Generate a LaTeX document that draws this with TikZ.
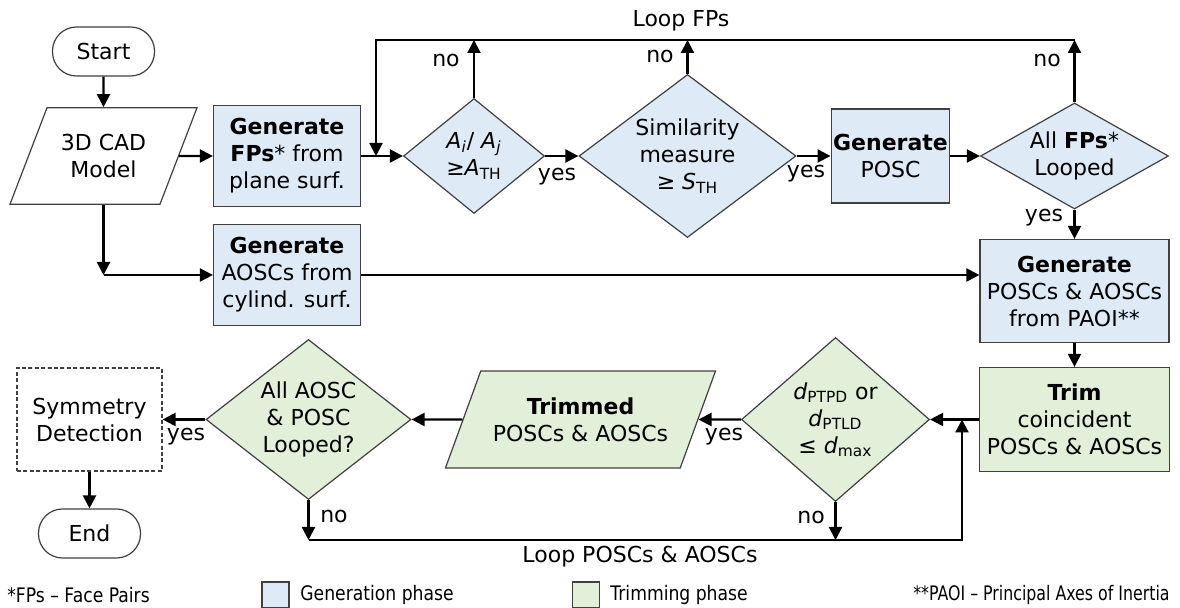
\documentclass[tikz,border=0pt]{standalone}
\usepackage{fontspec}
\setmainfont{DejaVu Sans}
\newfontfamily\legendfont[FakeStretch=0.86]{DejaVu Sans}
\newfontfamily\notefont[FakeStretch=0.79]{DejaVu Sans}
\usepackage{tikz}
\usetikzlibrary{shapes,arrows,arrows.meta}
\definecolor{genblue}{RGB}{222,235,247}
\definecolor{trimgreen}{RGB}{226,240,217}
\definecolor{edgegray}{RGB}{64,64,64}
\tikzstyle{startstop} = [rectangle, rounded corners=12pt, minimum width=51pt, minimum height=24.5pt, text centered, draw=edgegray, line width=0.6pt]
\tikzstyle{genbox} = [rectangle, minimum width=73.5pt, minimum height=50.5pt, align=center, draw=edgegray, line width=0.6pt, fill=genblue, inner sep=1pt]
\tikzstyle{trimbox} = [genbox, fill=trimgreen]
\tikzstyle{decision} = [diamond, inner sep=-3pt, align=center, draw=edgegray, line width=0.6pt, fill=genblue]
\tikzstyle{trimdecision} = [decision, fill=trimgreen]
\tikzstyle{io} = [trapezium, trapezium stretches body, trapezium left angle=69, trapezium right angle=111, inner xsep=2pt, inner ysep=13.2pt, align=center, draw=edgegray, line width=0.6pt]
\tikzstyle{arrow} = [line width=1.1pt, ->, >={Triangle[length=6.5pt,width=6.5pt]}]
\tikzstyle{tag} = [inner sep=0pt]
\tikzstyle{keybox} = [rectangle, draw=edgegray, line width=0.6pt, minimum width=13.5pt, minimum height=13pt, inner sep=0pt]

\begin{document}
\begin{tikzpicture}[x=0.5pt, y=-0.5pt, font=\fontsize{11}{13.5}\selectfont]
\useasboundingbox (0,0) rectangle (1180,608);

\node (start) [startstop] at (103.5,51.5) {Start};
\node (model) [io, minimum width=93.5pt, below of=start, node distance=52.25pt] {3D CAD\\Model};
\node (fps) [genbox, right of=model, node distance=91.75pt] {\textbf{Generate}\\\textbf{FPs}* from\\plane surf.};
\node (aoscs) [genbox, below of=fps, node distance=59.5pt] {\textbf{Generate}\\AOSCs from\\cylind. surf.};
\node (ratio) [decision, aspect=1.23, minimum width=70.5pt, minimum height=57.5pt, right of=fps, node distance=93.5pt] {\textit{A}\textsubscript{\textit{i}}/ \textit{A}\textsubscript{\textit{j}}\\≥\textit{A}\textsubscript{TH}};
\node (simil) [decision, aspect=1.33, minimum width=108.5pt, minimum height=81.5pt, right of=ratio, node distance=106.75pt] {Similarity\\measure\\≥ \textit{S}\textsubscript{TH}};
\node (posc) [genbox, minimum width=59pt, minimum height=47pt, right of=simil, node distance=101.5pt] {\textbf{Generate}\\POSC};
\node (allfps) [decision, aspect=1.77, minimum width=94pt, minimum height=53pt, right of=posc, node distance=92pt] {All \textbf{FPs}*\\Looped};
\node (paoi) [genbox, minimum width=94.5pt, minimum height=51.5pt, below of=allfps, node distance=67.5pt] {\textbf{Generate}\\POSCs \& AOSCs\\from PAOI**};
\node (trim) [trimbox, minimum width=95pt, minimum height=52pt, below of=paoi, node distance=64.25pt] {\textbf{Trim}\\coincident\\POSCs \& AOSCs};
\node (dist) [trimdecision, aspect=1.15, minimum width=94pt, minimum height=82pt, left of=trim, node distance=119.5pt] {\textit{d}\textsubscript{PTPD} or\\\textit{d}\textsubscript{PTLD}\\≤ \textit{d}\textsubscript{max}};
\node (trimmed) [io, fill=trimgreen, trapezium left angle=70, trapezium right angle=110, minimum width=135pt, left of=dist, node distance=127.5pt] {\textbf{Trimmed}\\POSCs \& AOSCs};
\node (allosc) [trimdecision, aspect=1.28, minimum width=102.5pt, minimum height=80pt, left of=trimmed, node distance=136pt] {All AOSC\\\& POSC\\Looped?};
\node (sym) [rectangle, dash pattern=on 2pt off 1.2pt, draw=edgegray, line width=0.6pt, minimum width=72.5pt, minimum height=51.5pt, align=center, left of=allosc, node distance=109.5pt] {Symmetry\\Detection};
\node (end) [startstop, below of=sym, node distance=57pt] {End};

% loop corners
\coordinate (looptop) at (376,40);
\coordinate (loopbot) at (962,540);

\draw [arrow] (start) -- (model);
\draw [arrow] (model) -- (fps);
\draw [arrow] (model.south) -- (model.south |- aoscs.west);
\draw [arrow] (model.south |- aoscs.west) -- (aoscs.west);
\draw [arrow] (fps) -- (ratio);
\draw [arrow] (ratio) -- (simil);
\draw [arrow] (simil) -- (posc);
\draw [arrow] (posc) -- (allfps);
\draw [arrow] (allfps) -- (paoi);
\draw [arrow] (aoscs.east) -- (aoscs.east -| paoi.west);
\draw [arrow] (paoi) -- (trim);
\draw [arrow] (trim) -- (dist);
\draw [arrow] (dist) -- (trimmed);
\draw [arrow] (trimmed) -- (allosc);
\draw [arrow] (allosc) -- (sym);
\draw [arrow] (sym) -- (end);

\draw [arrow] (ratio.north) -- (ratio.north |- looptop);
\draw [arrow] (simil.north) -- (simil.north |- looptop);
\draw [arrow] (allfps.north) -- (allfps.north |- looptop);
\draw [arrow] (allfps.north |- looptop) -- (looptop) -- (looptop |- fps.east);

\draw [arrow] (allosc.south) -- (allosc.south |- loopbot);
\draw [arrow] (dist.south) -- (dist.south |- loopbot);
\draw [arrow] (allosc.south |- loopbot) -- (loopbot) -- (loopbot |- trim.west);

\node (loopfps) [tag] at (681,21) {Loop FPs};
\node (no1) [tag] at (446,61) {no};
\node (no2) [tag] at (660,57) {no};
\node (no3) [tag] at (1047,61) {no};
\node (yes1) [tag] at (557,177) {yes};
\node (yes2) [tag] at (806,174) {yes};
\node (yes3) [tag] at (1044,218) {yes};
\node (yes4) [tag] at (724,437) {yes};
\node (yes5) [tag] at (186,437) {yes};
\node (no4) [tag] at (334,516) {no};
\node (no5) [tag] at (811,517) {no};
\node (looposc) [tag] at (640,557) {Loop POSCs \& AOSCs};

% legend
\node (fpsnote) [tag, anchor=west, font=\legendfont] at (7,595) {*FPs – Face Pairs};
\node (genkey) [keybox, fill=genblue] at (275.5,595) {};
\node (genlabel) [tag, anchor=west, font=\legendfont] at (300,595) {Generation phase};
\node (trimkey) [keybox, fill=trimgreen] at (586,595) {};
\node (trimlabel) [tag, anchor=west, font=\legendfont] at (610,595) {Trimming phase};
\node (paoinote) [tag, anchor=east, font=\notefont] at (1170,595) {**PAOI – Principal Axes of Inertia};
\end{tikzpicture}
\end{document}
